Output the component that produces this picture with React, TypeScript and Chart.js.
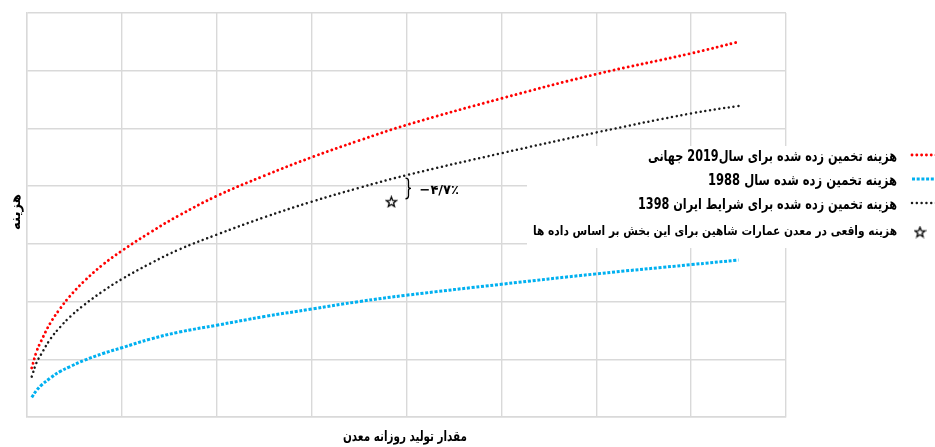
import React, { useEffect, useRef } from "react";
import { Chart, registerables } from "chart.js";

Chart.register(...registerables);

// x positions (daily production, grid units) where the curves were read
const xs = [0.05, 0.1, 0.15, 0.25, 0.35, 0.45, 0.6, 0.8, 1.0, 1.3, 1.6, 2.0, 2.5, 3.0, 3.5, 4.0, 5.0, 6.0, 7.0, 7.5];
// estimated cost, 2019 world
const red2019 = [0.85, 1.13, 1.32, 1.64, 1.88, 2.09, 2.35, 2.64, 2.88, 3.2, 3.49, 3.83, 4.18, 4.5, 4.79, 5.06, 5.52, 5.94, 6.3, 6.5];
// estimated cost, 1988
const blue1988 = [0.34, 0.46, 0.55, 0.68, 0.79, 0.87, 0.98, 1.1, 1.2, 1.35, 1.47, 1.59, 1.74, 1.87, 2.0, 2.11, 2.3, 2.48, 2.64, 2.72];
// estimated cost, Iran 1398
const black1398 = [0.7, 0.94, 1.09, 1.36, 1.56, 1.73, 1.94, 2.18, 2.39, 2.66, 2.9, 3.16, 3.46, 3.73, 3.97, 4.19, 4.57, 4.93, 5.26, 5.39];
// actual cost at the mine
const starX = [3.84];
const starY = [3.73];

const legendLabels = [
  "هزینه تخمین زده شده برای سال2019 جهانی",
  "هزینه تخمین زده شده سال 1988",
  "هزینه تخمین زده شده برای شرایط ایران 1398",
  "هزینه واقعی در معدن عمارات شاهین برای این بخش بر اساس داده ها",
];
const xTitle = "مقدار تولید روزانه معدن";
const yTitle = "هزینه";
const gapLabel = "−۴/۷٪";

const FONT = '"DejaVu Sans", sans-serif';

function makeStar(size: number): HTMLCanvasElement {
  const c = document.createElement("canvas");
  c.width = size;
  c.height = size;
  const g = c.getContext("2d")!;
  const cx = size / 2;
  const cy = size / 2 + 0.5;
  const ro = size / 2 - 1.2;
  const ri = ro * 0.42;
  g.beginPath();
  for (let i = 0; i < 10; i++) {
    const r = i % 2 === 0 ? ro : ri;
    const a = -Math.PI / 2 + (i * Math.PI) / 5;
    const px = cx + r * Math.cos(a);
    const py = cy + r * Math.sin(a);
    if (i === 0) g.moveTo(px, py);
    else g.lineTo(px, py);
  }
  g.closePath();
  g.fillStyle = "#fff";
  g.fill();
  g.strokeStyle = "#000";
  g.lineWidth = 1.3;
  g.lineJoin = "miter";
  g.stroke();
  return c;
}

export default function App() {
  const ref = useRef<HTMLCanvasElement | null>(null);

  useEffect(() => {
    document.body.style.margin = "0";
    const canvas = ref.current!;
    const star = makeStar(13);

    const styles = [
      { color: "#ff0000", dash: [0.01, 4.8], width: 2.9, cap: "round" as CanvasLineCap },
      { color: "#00b0f0", dash: [3, 1.7], width: 3, cap: "butt" as CanvasLineCap },
      { color: "#1a1a1a", dash: [0.01, 4.8], width: 2.5, cap: "round" as CanvasLineCap },
    ];

    const overlay = {
      id: "overlay",
      beforeDatasetsDraw(chart: any) {
        const ctx = chart.ctx;
        ctx.save();
        ctx.fillStyle = "#fff";
        ctx.fillRect(527, 146, 935 - 527, 102);
        ctx.restore();
      },
      afterDraw(chart: any) {
        const ctx: CanvasRenderingContext2D = chart.ctx;
        const xScale = chart.scales.x;
        const yScale = chart.scales.y;
        ctx.save();
        // legend
        const rows = [157, 181, 205, 232];
        for (let i = 0; i < 3; i++) {
          const s = styles[i];
          ctx.save();
          ctx.beginPath();
          ctx.strokeStyle = s.color;
          ctx.lineWidth = s.width;
          ctx.lineCap = s.cap;
          ctx.setLineDash(s.dash);
          ctx.moveTo(912, rows[i] - 2);
          ctx.lineTo(940, rows[i] - 2);
          ctx.stroke();
          ctx.restore();
        }
        ctx.drawImage(star, 920 - 6.5, rows[3] - 6.5);
        ctx.fillStyle = "#000";
        ctx.direction = "rtl";
        ctx.textAlign = "right";
        ctx.textBaseline = "middle";
        const widths = [249, 189, 259, 364];
        for (let i = 0; i < 4; i++) {
          ctx.font = (i < 3 ? "bold 15px " : "bold 12.5px ") + FONT;
          ctx.fillText(legendLabels[i], 897, rows[i], widths[i]);
        }
        // axis titles
        ctx.textAlign = "center";
        ctx.font = "bold 14px " + FONT;
        ctx.fillText(xTitle, 405, 437, 124);
        ctx.save();
        ctx.translate(16, 212);
        ctx.rotate(-Math.PI / 2);
        ctx.fillText(yTitle, 0, 0, 36);
        ctx.restore();
        // brace and gap label
        const bx = xScale.getPixelForValue(4.0);
        const yTop = yScale.getPixelForValue(4.19) + 3;
        const yBot = yScale.getPixelForValue(starY[0]) - 3;
        const ym = (yTop + yBot) / 2;
        ctx.beginPath();
        ctx.strokeStyle = "#000";
        ctx.lineWidth = 1.3;
        ctx.moveTo(bx - 1, yTop);
        ctx.quadraticCurveTo(bx + 2, yTop, bx + 2, yTop + 3);
        ctx.lineTo(bx + 2, ym - 2);
        ctx.quadraticCurveTo(bx + 2, ym, bx + 4.5, ym);
        ctx.quadraticCurveTo(bx + 2, ym, bx + 2, ym + 2);
        ctx.lineTo(bx + 2, yBot - 3);
        ctx.quadraticCurveTo(bx + 2, yBot, bx - 1, yBot);
        ctx.stroke();
        ctx.direction = "ltr";
        ctx.textAlign = "left";
        ctx.font = "bold 13px " + FONT;
        ctx.fillText(gapLabel, bx + 13, ym + 2);
        ctx.restore();
      },
    };

    const mk = (vals: number[], i: number, label: string) => ({
      label,
      data: xs.map((x, k) => ({ x, y: vals[k] })),
      borderColor: styles[i].color,
      borderWidth: styles[i].width,
      borderDash: styles[i].dash,
      borderCapStyle: styles[i].cap,
      pointRadius: 0,
      fill: false,
      tension: 0.4,
    });

    const chart = new Chart(canvas, {
      type: "line",
      data: {
        datasets: [
          mk(red2019, 0, legendLabels[0]),
          mk(blue1988, 1, legendLabels[1]),
          mk(black1398, 2, legendLabels[2]),
          {
            type: "scatter",
            label: legendLabels[3],
            data: starX.map((x, k) => ({ x, y: starY[k] })),
            pointStyle: star,
            pointRadius: 6,
            showLine: false,
          } as any,
        ],
      },
      options: {
        animation: false,
        responsive: false,
        events: [],
        layout: { padding: { left: 27, right: 149, top: 13, bottom: 30 } },
        plugins: { legend: { display: false }, tooltip: { enabled: false } },
        scales: {
          x: {
            type: "linear",
            min: 0,
            max: 8,
            ticks: { display: false, stepSize: 1 },
            grid: { color: "#d9d9d9", lineWidth: 1.4, drawTicks: false },
            border: { color: "#d9d9d9", width: 1.4 },
          },
          y: {
            min: 0,
            max: 7,
            ticks: { display: false, stepSize: 1 },
            grid: { color: "#d9d9d9", lineWidth: 1.4, drawTicks: false },
            border: { color: "#d9d9d9", width: 1.4 },
          },
        },
      },
      plugins: [overlay],
    });
    return () => chart.destroy();
  }, []);

  return (
    <div style={{ width: 935, height: 447 }}>
      <canvas ref={ref} width={935} height={447} style={{ display: "block" }} />
    </div>
  );
}
